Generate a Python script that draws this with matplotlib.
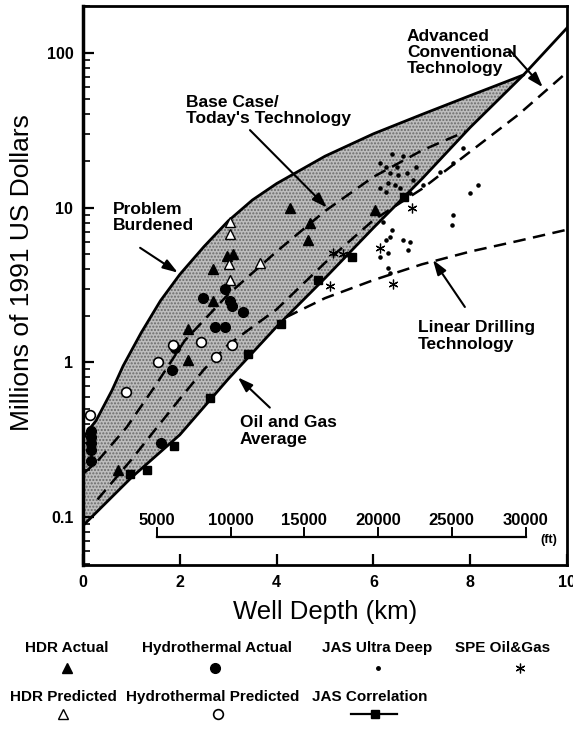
import matplotlib
matplotlib.use("Agg")
import matplotlib.pyplot as plt
import matplotlib.transforms as mtransforms
import numpy as np

plt.rcParams['font.family'] = ['Liberation Sans', 'DejaVu Sans']

# --- curves (depth km, cost M$) ---
pb_depth = [0, 0.1, 0.27, 0.6, 0.83, 1.2, 1.6, 2.0, 2.5, 3.0, 3.5, 4.0, 5.0, 6.0, 7.0, 8.0, 9.1]
pb_cost = [0.32, 0.36, 0.42, 0.66, 0.95, 1.55, 2.5, 3.7, 5.6, 8.2, 11.2, 14.3, 21.5, 30, 40, 53, 72]

og_depth = [0, 1, 2, 3, 4, 5, 6, 7, 8, 9.1, 10]
og_cost = [0.088, 0.18, 0.34, 0.78, 1.7, 3.5, 7.4, 15.3, 33, 72, 145]

bc_depth = [0, 0.3, 0.9, 1.5, 2.1, 3.0, 4.0, 5.0, 6.0, 7.0, 7.9]
bc_cost = [0.19, 0.23, 0.38, 0.71, 1.38, 2.75, 5.2, 9.5, 15.8, 23.4, 31]

ac_depth = [0.3, 1.0, 1.5, 2.0, 2.5, 3.0, 4.0, 5.0, 6.0, 7.0, 8.0, 9.0, 10.0]
ac_cost = [0.13, 0.235, 0.37, 0.58, 0.9, 1.3, 2.2, 4.4, 8.3, 13.2, 23, 40, 75]

ld_depth = [4.2, 5, 6, 7, 8, 9, 10]
ld_cost = [1.96, 2.6, 3.4, 4.3, 5.2, 6.1, 7.2]

# --- data points ---
hdr_act_d = [0.72, 2.17, 2.17, 2.68, 2.68, 2.98, 3.1, 4.28, 4.69, 4.64, 6.03]
hdr_act_c = [0.20, 1.04, 1.65, 2.5, 4.0, 4.9, 5.0, 10.0, 7.9, 6.2, 9.7]

hdr_pred_d = [3.04, 3.04, 3.02, 3.04, 3.66]
hdr_pred_c = [8.1, 6.8, 4.3, 3.4, 4.4]

hyd_act_d = [0.17, 0.17, 0.17, 0.17, 0.17, 1.61, 1.84, 1.9, 2.48, 2.93, 3.04, 3.08, 3.3, 2.73, 2.93]
hyd_act_c = [0.23, 0.27, 0.30, 0.33, 0.36, 0.30, 0.89, 1.24, 2.6, 3.0, 2.5, 2.3, 2.1, 1.7, 1.7]

hyd_pred_d = [0.14, 0.89, 1.55, 1.86, 2.44, 2.75, 3.08]
hyd_pred_c = [0.46, 0.64, 1.0, 1.3, 1.35, 1.08, 1.29]

jas_ud_d = [6.38, 6.62, 6.14, 6.27, 6.48, 6.34, 6.51, 6.69, 6.89, 6.31, 6.45, 6.14, 6.27,
            6.55, 6.82, 6.76, 7.03, 7.86, 7.65, 7.38, 8.17, 7.99, 7.65, 7.62, 6.2, 6.38,
            6.34, 6.27, 6.62, 6.76, 6.72, 6.14, 6.31, 6.31, 6.34]
jas_ud_c = [22.2, 21.7, 19.4, 18.4, 18.4, 16.7, 16.3, 16.7, 18.4, 14.4, 14.0, 13.3, 12.7,
            13.3, 15.1, 12.4, 14.0, 24.2, 19.4, 17.0, 14.0, 12.4, 9.0, 7.7, 8.1, 7.2,
            6.5, 6.2, 6.2, 6.0, 5.3, 4.8, 5.1, 4.1, 3.8]

spe_d = [5.17, 5.37, 5.1, 6.14, 6.4, 6.8]
spe_c = [5.1, 5.0, 3.1, 5.5, 3.2, 10.0]

jas_corr_d = [0.97, 1.32, 1.87, 2.62, 3.41, 4.1, 4.86, 5.56, 6.63]
jas_corr_c = [0.19, 0.2, 0.29, 0.59, 1.13, 1.77, 3.4, 4.8, 11.8]

ft_ticks = [5000, 10000, 15000, 20000, 25000, 30000]

fig = plt.figure(figsize=(5.73, 7.33), dpi=100)
ax = fig.add_axes([83/573, 1-565/733, (567-83)/573, (565-6)/733])
ax.set_yscale('log')
ax.set_xlim(0, 10)
ax.set_ylim(0.049, 201)

# shaded band
poly_x = pb_depth + [d for d in og_depth if d <= 9.1][::-1]
poly_y = pb_cost + [c for d, c in zip(og_depth, og_cost) if d <= 9.1][::-1]
ax.fill(poly_x, poly_y, facecolor='#bdbdbd', edgecolor='#6a6a6a', hatch='.....', linewidth=0, zorder=1)

ax.plot(pb_depth, pb_cost, color='black', lw=2, zorder=3)
ax.plot(og_depth, og_cost, color='black', lw=2, zorder=3)
dash = (0, (5, 3))
ax.plot(bc_depth, bc_cost, color='black', lw=1.8, ls=dash, zorder=3)
ax.plot(ac_depth, ac_cost, color='black', lw=1.8, ls=dash, zorder=3)
ax.plot(ld_depth, ld_cost, color='black', lw=1.8, ls=dash, zorder=3)

ax.plot(hdr_act_d, hdr_act_c, '^', color='black', ms=7, zorder=4)
ax.plot(hdr_pred_d, hdr_pred_c, '^', mfc='white', mec='black', mew=1, ms=7, zorder=4)
ax.plot(hyd_act_d, hyd_act_c, 'o', color='black', ms=7, zorder=4)
ax.plot(hyd_pred_d, hyd_pred_c, 'o', mfc='white', mec='black', mew=1.2, ms=7, zorder=4)
ax.plot(jas_ud_d, jas_ud_c, '.', color='black', ms=4.5, zorder=4)
ax.plot(spe_d, spe_c, marker=(6, 2, 0), ls='none', color='black', ms=7, mew=0.9, zorder=4)
ax.plot(jas_corr_d, jas_corr_c, 's', color='black', ms=6, zorder=4)

# annotations
tkw = dict(fontsize=12.5, fontweight='bold', va='center', ha='left', linespacing=1.1)
akw = dict(arrowstyle='-|>,head_length=0.9,head_width=0.3', lw=1.5, color='black', shrinkA=0, shrinkB=0)
ax.text(6.69, 101, "Advanced\nConventional\nTechnology", **tkw)
ax.annotate("", xy=(9.5, 60), xytext=(8.82, 104), arrowprops=akw)
ax.text(2.13, 42.5, "Base Case/\nToday's Technology", **tkw)
ax.annotate("", xy=(5.04, 10), xytext=(3.45, 31.7), arrowprops=akw)
ax.text(0.62, 8.6, "Problem\nBurdened", **tkw)
ax.annotate("", xy=(1.96, 3.8), xytext=(1.18, 5.5), arrowprops=akw)
ax.text(6.92, 1.48, "Linear Drilling\nTechnology", **tkw)
ax.annotate("", xy=(7.23, 4.6), xytext=(7.89, 2.28), arrowprops=akw)
ax.text(3.24, 0.36, "Oil and Gas\nAverage", **tkw)
ax.annotate("", xy=(3.2, 0.8), xytext=(3.86, 0.51), arrowprops=akw)

# feet scale inside the axes
trans = mtransforms.blended_transform_factory(ax.transData, ax.transAxes)
ft_km = [f * 0.0003048 for f in ft_ticks]
ax.plot([ft_km[0], ft_km[-1]], [0.05, 0.05], color='black', lw=1.6, transform=trans, zorder=3)
for f, k in zip(ft_ticks, ft_km):
    ax.plot([k, k], [0.05, 0.066], color='black', lw=1.4, transform=trans, zorder=3)
    ax.text(k, 0.079, str(f), transform=trans, ha='center', va='center', fontsize=12, fontweight='bold')
ax.text(9.63, 0.045, "(ft)", transform=trans, ha='center', va='center', fontsize=9, fontweight='bold')

# axes styling
ax.set_xticks([0, 2, 4, 6, 8, 10])
ax.set_xticklabels(['0', '2', '4', '6', '8', '10'])
ax.set_yticks([0.1, 1, 10, 100])
ax.set_yticklabels(['0.1', '1', '10', '100'])
ax.tick_params(axis='both', which='major', direction='in', length=8, width=1.6, labelsize=11.5, pad=7)
ax.tick_params(axis='y', which='minor', direction='in', length=5, width=1.2)
ax.tick_params(axis='x', which='minor', bottom=False)
for lab in ax.get_xticklabels() + ax.get_yticklabels():
    lab.set_fontweight('bold')
for s in ax.spines.values():
    s.set_linewidth(2)
ax.spines['left'].set_linewidth(2.5)

fig.text(22/573, 1-273/733, "Millions of 1991 US Dollars", rotation=90, ha='center', va='center', fontsize=19)
fig.text(325/573, 1-612/733, "Well Depth (km)", ha='center', va='center', fontsize=18.5)

# bottom key
leg_ax = fig.add_axes([0, 0, 1, 1])
leg_ax.set_xlim(0, 573)
leg_ax.set_ylim(733, 0)
leg_ax.axis('off')
key_labels = ["HDR Actual", "Hydrothermal Actual", "JAS Ultra Deep", "SPE Oil&Gas",
              "HDR Predicted", "Hydrothermal Predicted", "JAS Correlation"]
key_text_x = [67, 217, 377, 503, 63, 213, 370]
key_mark_x = [67, 215, 378, 520, 63, 218, 375]
key_row = [0, 0, 0, 0, 1, 1, 1]
key_style = [dict(marker='^', color='black', ms=7),
             dict(marker='o', color='black', ms=7),
             dict(marker='.', color='black', ms=5),
             dict(marker=(6, 2, 0), color='black', ms=7, mew=0.9),
             dict(marker='^', mfc='white', mec='black', mew=1, ms=7),
             dict(marker='o', mfc='white', mec='black', mew=1.2, ms=7),
             dict(marker='s', color='black', ms=6)]
row_text_y = [648, 697]
row_mark_y = [668, 714]
for lab, tx, mx, r, st in zip(key_labels, key_text_x, key_mark_x, key_row, key_style):
    leg_ax.text(tx, row_text_y[r], lab, ha='center', va='center', fontsize=11, fontweight='bold')
    if lab == "JAS Correlation":
        leg_ax.plot([mx - 24, mx + 22], [row_mark_y[r]] * 2, color='black', lw=1.6)
    leg_ax.plot([mx], [row_mark_y[r]], ls='none', **st)

fig.savefig("out.png", dpi=100)
